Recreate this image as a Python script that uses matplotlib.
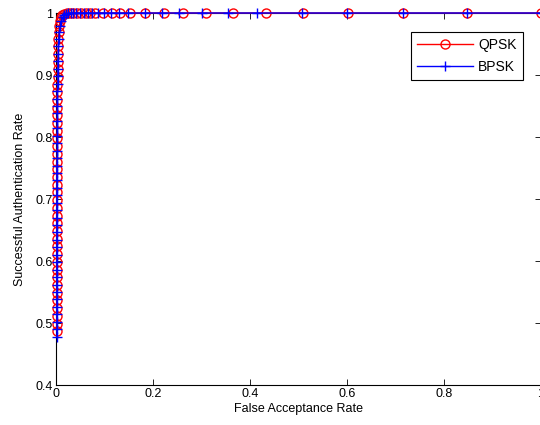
import matplotlib
matplotlib.use("Agg")
import matplotlib.pyplot as plt

plt.rcParams['font.family'] = ['Liberation Sans', 'DejaVu Sans']

# QPSK: steep rise along the left edge, then flat at 1
qpsk_far = [0.002, 0.002, 0.002, 0.002, 0.002, 0.002, 0.002, 0.002, 0.002, 0.002,
            0.002, 0.002, 0.002, 0.002, 0.002, 0.002, 0.002, 0.002, 0.002, 0.002,
            0.002, 0.002, 0.002, 0.003, 0.003, 0.003, 0.003, 0.003, 0.003, 0.003,
            0.003, 0.003, 0.003, 0.004, 0.004, 0.004, 0.004, 0.005, 0.005, 0.006,
            0.007, 0.008, 0.010, 0.013, 0.017, 0.022, 0.028, 0.035, 0.043, 0.052,
            0.062, 0.071, 0.081, 0.097, 0.116, 0.132, 0.153, 0.184, 0.223, 0.262,
            0.310, 0.364, 0.434, 0.510, 0.603, 0.715, 0.847, 1.000]
qpsk_sar = [0.487, 0.499, 0.512, 0.524, 0.537, 0.549, 0.562, 0.574, 0.586, 0.599,
            0.611, 0.624, 0.636, 0.649, 0.661, 0.673, 0.686, 0.698, 0.711, 0.723,
            0.736, 0.748, 0.760, 0.773, 0.785, 0.798, 0.810, 0.822, 0.835, 0.847,
            0.860, 0.872, 0.884, 0.897, 0.909, 0.921, 0.934, 0.946, 0.958, 0.969,
            0.979, 0.987, 0.993, 0.997, 0.999, 1.000, 1.000, 1.000, 1.000, 1.000,
            1.000, 1.000, 1.000, 1.000, 1.000, 1.000, 1.000, 1.000, 1.000, 1.000,
            1.000, 1.000, 1.000, 1.000, 1.000, 1.000, 1.000, 1.000]

# BPSK
bpsk_far = [0.002, 0.002, 0.002, 0.002, 0.002, 0.002, 0.002, 0.002, 0.002, 0.002,
            0.002, 0.002, 0.002, 0.002, 0.002, 0.002, 0.002, 0.002, 0.002, 0.002,
            0.002, 0.002, 0.002, 0.002, 0.003, 0.003, 0.003, 0.003, 0.003, 0.003,
            0.003, 0.003, 0.003, 0.003, 0.004, 0.004, 0.004, 0.004, 0.005, 0.005,
            0.006, 0.007, 0.009, 0.011, 0.014, 0.017, 0.021, 0.025, 0.030, 0.036,
            0.042, 0.049, 0.057, 0.066, 0.075, 0.086, 0.099, 0.114, 0.130, 0.149,
            0.184, 0.219, 0.254, 0.300, 0.355, 0.415, 0.508, 0.599, 0.715, 0.847,
            1.000]
bpsk_sar = [0.478, 0.490, 0.502, 0.514, 0.526, 0.538, 0.550, 0.562, 0.574, 0.586,
            0.598, 0.610, 0.622, 0.634, 0.646, 0.658, 0.670, 0.682, 0.694, 0.706,
            0.718, 0.730, 0.742, 0.754, 0.766, 0.778, 0.790, 0.802, 0.814, 0.826,
            0.838, 0.850, 0.862, 0.874, 0.886, 0.898, 0.910, 0.922, 0.934, 0.946,
            0.958, 0.969, 0.979, 0.987, 0.993, 0.997, 0.999, 1.000, 1.000, 1.000,
            1.000, 1.000, 1.000, 1.000, 1.000, 1.000, 1.000, 1.000, 1.000, 1.000,
            1.000, 1.000, 1.000, 1.000, 1.000, 1.000, 1.000, 1.000, 1.000, 1.000,
            1.000]

x_ticks = [0, 0.2, 0.4, 0.6, 0.8, 1]
x_labels = ['0', '0.2', '0.4', '0.6', '0.8', '1']
y_ticks = [0.4, 0.5, 0.6, 0.7, 0.8, 0.9, 1]
y_labels = ['0.4', '0.5', '0.6', '0.7', '0.8', '0.9', '1']

fig = plt.figure(figsize=(5.4, 4.25), dpi=100)
ax = fig.add_axes([56 / 540, 40 / 425, 485 / 540, 372 / 425])

# markers are left unclipped so the ones on the axis edges stay whole
ax.plot(qpsk_far, qpsk_sar, color='red', marker='o', markersize=6.5,
        markerfacecolor='none', markeredgewidth=1, linewidth=1,
        label='QPSK', clip_on=False, zorder=3)
ax.plot(bpsk_far, bpsk_sar, color='blue', marker='+', markersize=7,
        markeredgewidth=1, linewidth=1, label='BPSK', clip_on=False, zorder=4)

ax.set_xlim(0, 1)
ax.set_ylim(0.4, 1)
ax.set_xticks(x_ticks)
ax.set_xticklabels(x_labels)
ax.set_yticks(y_ticks)
ax.set_yticklabels(y_labels)
ax.tick_params(direction='in', length=4, width=0.6, top=True, right=True,
               labelsize=9, pad=2)
for side in ax.spines.values():
    side.set_linewidth(0.8)

ax.set_xlabel('False Acceptance Rate', fontsize=9, labelpad=2)
ax.set_ylabel('Successful Authentication Rate', fontsize=9, labelpad=7)

leg = ax.legend(loc='upper right', bbox_to_anchor=(0.963, 0.95), fontsize=10,
                fancybox=False, framealpha=1, edgecolor='black',
                handlelength=4.0, borderpad=0.45, labelspacing=0.6,
                handletextpad=0.4, borderaxespad=0)
leg.get_frame().set_linewidth(0.8)

fig.savefig('out.png', dpi=100)
